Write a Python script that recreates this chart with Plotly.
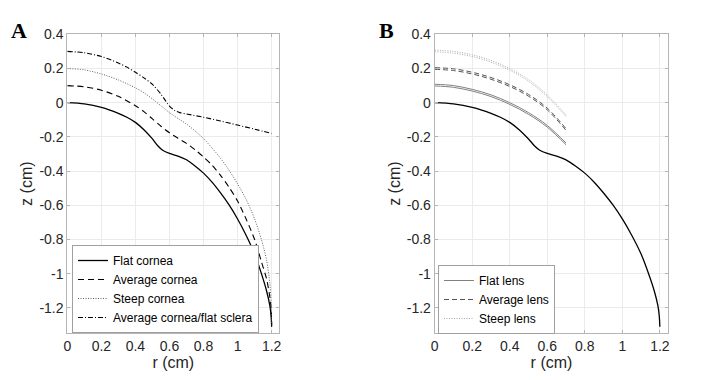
import plotly.graph_objects as go

# ---- panel A: cornea profiles (r in cm, z in cm) ----
flat_r = [0, 0.1, 0.2, 0.3, 0.35, 0.4, 0.45, 0.5, 0.53, 0.56, 0.6, 0.65, 0.7, 0.75,
          0.8, 0.85, 0.9, 0.95, 1.0, 1.05, 1.1, 1.14, 1.17, 1.19, 1.197, 1.2]
flat_z = [0, -0.007, -0.027, -0.062, -0.085, -0.115, -0.158, -0.212, -0.25, -0.278,
          -0.297, -0.312, -0.334, -0.37, -0.412, -0.465, -0.528, -0.598, -0.68,
          -0.775, -0.885, -1.0, -1.1, -1.19, -1.25, -1.31]

avg_r = [0, 0.1, 0.2, 0.3, 0.4, 0.45, 0.5, 0.55, 0.6, 0.65, 0.7, 0.75, 0.8, 0.85,
         0.9, 0.95, 1.0, 1.05, 1.1, 1.14, 1.17, 1.19, 1.198, 1.2]
avg_z = [0.1, 0.093, 0.073, 0.037, -0.018, -0.052, -0.095, -0.138, -0.176, -0.208,
         -0.238, -0.275, -0.318, -0.365, -0.425, -0.495, -0.575, -0.68, -0.8,
         -0.93, -1.03, -1.14, -1.22, -1.3]

steep_r = [0, 0.1, 0.2, 0.3, 0.4, 0.45, 0.5, 0.55, 0.6, 0.65, 0.7, 0.75, 0.8, 0.85,
           0.9, 0.95, 1.0, 1.05, 1.1, 1.14, 1.17, 1.19, 1.197, 1.2]
steep_z = [0.2, 0.192, 0.168, 0.133, 0.087, 0.058, 0.022, -0.018, -0.058, -0.092,
           -0.125, -0.165, -0.21, -0.265, -0.325, -0.395, -0.475, -0.565, -0.68,
           -0.8, -0.92, -1.06, -1.17, -1.3]

sclera_r = [0, 0.1, 0.2, 0.3, 0.35, 0.4, 0.45, 0.5, 0.55, 0.6, 0.63, 0.66, 0.7,
            0.8, 0.9, 1.0, 1.1, 1.2]
sclera_z = [0.3, 0.292, 0.27, 0.232, 0.208, 0.178, 0.145, 0.107, 0.05, -0.02,
            -0.045, -0.058, -0.066, -0.085, -0.107, -0.131, -0.155, -0.18]

# ---- panel B: lenses (two surfaces each) ----
lens_r = [0, 0.1, 0.2, 0.3, 0.4, 0.5, 0.6, 0.7]
flat_lens_out = [0.108, 0.100, 0.078, 0.046, 0.0, -0.058, -0.133, -0.236]
flat_lens_in = [0.098, 0.090, 0.068, 0.036, -0.010, -0.068, -0.143, -0.246]
avg_lens_out = [0.205, 0.198, 0.178, 0.147, 0.105, 0.048, -0.032, -0.152]
avg_lens_in = [0.195, 0.188, 0.168, 0.137, 0.095, 0.038, -0.042, -0.162]
steep_lens_out = [0.308, 0.300, 0.280, 0.247, 0.200, 0.135, 0.045, -0.072]
steep_lens_in = [0.298, 0.290, 0.270, 0.237, 0.190, 0.125, 0.035, -0.082]

xticks = [0, 0.2, 0.4, 0.6, 0.8, 1, 1.2]
xtext = ["0", "0.2", "0.4", "0.6", "0.8", "1", "1.2"]
yticks = [0.4, 0.2, 0, -0.2, -0.4, -0.6, -0.8, -1, -1.2]
ytext = ["0.4", "0.2", "0", "-0.2", "-0.4", "-0.6", "-0.8", "-1", "-1.2"]

fig = go.Figure()

# panel A
fig.add_trace(go.Scatter(x=flat_r, y=flat_z, mode="lines", name="Flat cornea",
                         line=dict(color="black", width=1.3, shape="spline", smoothing=0.8),
                         legend="legend", xaxis="x", yaxis="y"))
fig.add_trace(go.Scatter(x=avg_r, y=avg_z, mode="lines", name="Average cornea",
                         line=dict(color="black", width=1.1, dash="6px,4px",
                                   shape="spline", smoothing=0.8),
                         legend="legend", xaxis="x", yaxis="y"))
fig.add_trace(go.Scatter(x=steep_r, y=steep_z, mode="lines", name="Steep cornea",
                         line=dict(color="#606060", width=1, dash="1px,1.5px",
                                   shape="spline", smoothing=0.8),
                         legend="legend", xaxis="x", yaxis="y"))
fig.add_trace(go.Scatter(x=sclera_r, y=sclera_z, mode="lines",
                         name="Average cornea/flat sclera",
                         line=dict(color="black", width=1.1, dash="5px,2px,1px,2px",
                                   shape="spline", smoothing=0.8),
                         legend="legend", xaxis="x", yaxis="y"))

# panel B
fig.add_trace(go.Scatter(x=flat_r, y=flat_z, mode="lines", showlegend=False,
                         line=dict(color="black", width=1.3, shape="spline", smoothing=0.8),
                         xaxis="x2", yaxis="y2"))
lens_sets = [
    ("Flat lens", flat_lens_out, flat_lens_in, "#808080", "solid", 1),
    ("Average lens", avg_lens_out, avg_lens_in, "#555555", "5px,3px", 1),
    ("Steep lens", steep_lens_out, steep_lens_in, "#a8a8a8", "1px,1.5px", 1),
]
for name, out_z, in_z, col, dash, w in lens_sets:
    fig.add_trace(go.Scatter(x=lens_r, y=out_z, mode="lines", name=name,
                             line=dict(color=col, width=w, dash=dash, shape="spline"),
                             legend="legend2", xaxis="x2", yaxis="y2"))
    fig.add_trace(go.Scatter(x=lens_r, y=in_z, mode="lines", showlegend=False,
                             line=dict(color=col, width=w, dash=dash, shape="spline"),
                             xaxis="x2", yaxis="y2"))

font = "Liberation Sans, Arial, sans-serif"
ax_common = dict(showgrid=True, gridcolor="#ebebeb", gridwidth=1, zeroline=False,
                 showline=True, linecolor="#b5b5b5", linewidth=1, mirror="ticks",
                 ticks="inside", ticklen=3, tickcolor="#b5b5b5", automargin=False,
                 tickfont=dict(family=font, size=14, color="#262626"))
title_font = dict(family=font, size=16, color="#262626")

W, H = 706, 380
fig.update_layout(
    width=W, height=H,
    margin=dict(l=0, r=0, t=0, b=0),
    paper_bgcolor="white", plot_bgcolor="white",
    xaxis=dict(domain=[67.3 / W, 279.3 / W], range=[0, 1.245], anchor="y",
               tickvals=xticks, ticktext=xtext,
               title=dict(text="r (cm)", font=title_font, standoff=4),
               **ax_common),
    yaxis=dict(domain=[1 - 333 / H, 1 - 34.3 / H], range=[-1.347, 0.4], anchor="x",
               tickvals=yticks, ticktext=ytext,
               title=dict(text="z (cm)", font=title_font, standoff=2),
               **ax_common),
    xaxis2=dict(domain=[434.7 / W, 668.3 / W], range=[0, 1.245], anchor="y2",
                tickvals=xticks, ticktext=xtext,
                title=dict(text="r (cm)", font=title_font, standoff=4),
                **ax_common),
    yaxis2=dict(domain=[1 - 333 / H, 1 - 34.3 / H], range=[-1.347, 0.4], anchor="x2",
                tickvals=yticks, ticktext=ytext,
                title=dict(text="z (cm)", font=title_font, standoff=2),
                **ax_common),
    legend=dict(x=72 / W, y=1 - 333 / H, xanchor="left", yanchor="bottom",
                bgcolor="white", bordercolor="#a0a0a0", borderwidth=1,
                font=dict(family=font, size=12, color="black"),
                tracegroupgap=0, itemwidth=30),
    legend2=dict(x=438 / W, y=1 - 334 / H, xanchor="left", yanchor="bottom",
                 bgcolor="white", bordercolor="#a0a0a0", borderwidth=1,
                 font=dict(family=font, size=12, color="black"),
                 tracegroupgap=0, itemwidth=30),
    annotations=[
        dict(text="<b>A</b>", x=9 / W, y=1 - 16 / H, xref="paper", yref="paper",
             xanchor="left", yanchor="top", showarrow=False,
             font=dict(family="Liberation Serif, Times New Roman, serif", size=22,
                       color="black")),
        dict(text="<b>B</b>", x=377 / W, y=1 - 16 / H, xref="paper", yref="paper",
             xanchor="left", yanchor="top", showarrow=False,
             font=dict(family="Liberation Serif, Times New Roman, serif", size=22,
                       color="black")),
    ],
)

fig.write_html("out.html", config={"displayModeBar": False},
               post_script="document.body.style.margin='0px';")
